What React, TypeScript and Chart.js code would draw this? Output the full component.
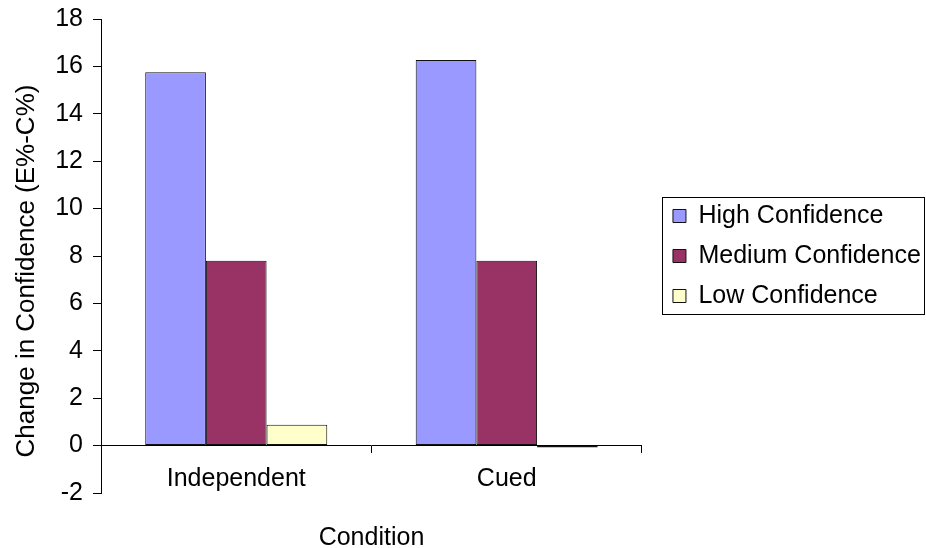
import React, { useEffect, useRef } from "react";
import { Chart, registerables } from "chart.js";

Chart.register(...registerables);

const categories = ["Independent", "Cued"];
const seriesNames = ["High Confidence", "Medium Confidence", "Low Confidence"];
const highValues = [15.75, 16.27];
const mediumValues = [7.8, 7.8];
const lowValues = [0.88, -0.08];
const seriesColors = ["#9999FF", "#993366", "#FFFFCC"];
const yMin = -2;
const yMax = 18;
const yStep = 2;
const yTitle = "Change in Confidence (E%-C%)";
const xTitle = "Condition";

const FONT = "'Liberation Sans', Arial, Helvetica, sans-serif";
const FONT_SIZE = 25;
const Y_TITLE_SIZE = 26;

// Nudges the legend away from the plot, frames it with a thin border,
// and draws the rotated value-axis caption.
const chartDecorations = {
  id: "chartDecorations",
  afterLayout(chart: any) {
    const lg = chart.legend;
    if (!lg) return;
    lg.left += 16;
    lg.right += 16;
  },
  afterDraw(chart: any) {
    const ctx = chart.ctx;
    const lg = chart.legend;
    if (lg && lg.columnSizes && lg.columnSizes.length) {
      const pad = lg.options.labels.padding;
      const colH = lg.columnSizes[0].height;
      const top0 = (lg.top + pad + lg.bottom - colH) / 2;
      const x0 = Math.round(lg.left + 4) + 0.5;
      const y0 = Math.round(top0 - 6.5) + 0.5;
      const y1 = Math.round(top0 + colH - pad + 5) + 0.5;
      const x1 = chart.width - 1.5;
      ctx.save();
      ctx.strokeStyle = "#000";
      ctx.lineWidth = 1;
      ctx.strokeRect(x0, y0, x1 - x0, y1 - y0);
      ctx.restore();
    }
    ctx.save();
    ctx.translate(27, 271);
    ctx.rotate(-Math.PI / 2);
    ctx.font = `${Y_TITLE_SIZE}px ${FONT}`;
    ctx.fillStyle = "#000";
    ctx.textAlign = "center";
    ctx.textBaseline = "middle";
    ctx.fillText(yTitle, 0, 0);
    ctx.restore();
  },
};

export default function App() {
  const canvasRef = useRef<HTMLCanvasElement | null>(null);

  useEffect(() => {
    const canvas = canvasRef.current;
    if (!canvas) return;
    const values = [highValues, mediumValues, lowValues];
    const chart = new Chart(canvas, {
      type: "bar",
      data: {
        labels: categories,
        datasets: seriesNames.map((name, i) => ({
          label: name,
          data: values[i],
          backgroundColor: seriesColors[i],
          borderColor: "#111",
          borderWidth: 1,
          borderSkipped: false,
          barPercentage: 1,
          categoryPercentage: 0.673,
        })),
      },
      plugins: [chartDecorations],
      options: {
        responsive: false,
        animation: false,
        devicePixelRatio: 1,
        layout: { padding: { left: 0, top: 19, right: 11.2, bottom: 55 } },
        font: { family: FONT, size: FONT_SIZE },
        color: "#000",
        plugins: {
          tooltip: { enabled: false },
          legend: {
            position: "right",
            maxWidth: 400,
            labels: {
              color: "#000",
              font: { family: FONT, size: FONT_SIZE },
              boxWidth: 13,
              boxHeight: 13,
              padding: 15,
            },
          },
        },
        scales: {
          x: {
            type: "category",
            position: { y: 0 },
            offset: true,
            grid: {
              offset: true,
              drawOnChartArea: false,
              drawTicks: true,
              tickLength: 7,
              color: "#000",
            },
            border: { display: true, color: "#000", width: 1 },
            ticks: {
              color: "#000",
              font: { family: FONT, size: FONT_SIZE },
              padding: 12,
              maxRotation: 0,
            },
            title: {
              display: true,
              text: xTitle,
              color: "#000",
              font: { family: FONT, size: FONT_SIZE },
              padding: { top: 17, bottom: 0 },
            },
            afterFit(scale: any) {
              scale.paddingLeft = 0;
              scale.paddingRight = 0;
            },
          },
          y: {
            min: yMin,
            max: yMax,
            grid: {
              drawOnChartArea: false,
              drawTicks: true,
              tickLength: 8,
              color: "#000",
            },
            border: { display: true, color: "#000", width: 1 },
            ticks: {
              stepSize: yStep,
              color: "#000",
              font: { family: FONT, size: FONT_SIZE },
              padding: 10,
            },
            afterFit(scale: any) {
              scale.width = 101;
              scale.paddingTop = 0;
              scale.paddingBottom = 0;
            },
          },
        },
      },
    });
    return () => chart.destroy();
  }, []);

  return (
    <div style={{ position: "fixed", left: 0, top: 0, width: 926, height: 548, background: "#fff" }}>
      <canvas ref={canvasRef} width={926} height={548} />
    </div>
  );
}
